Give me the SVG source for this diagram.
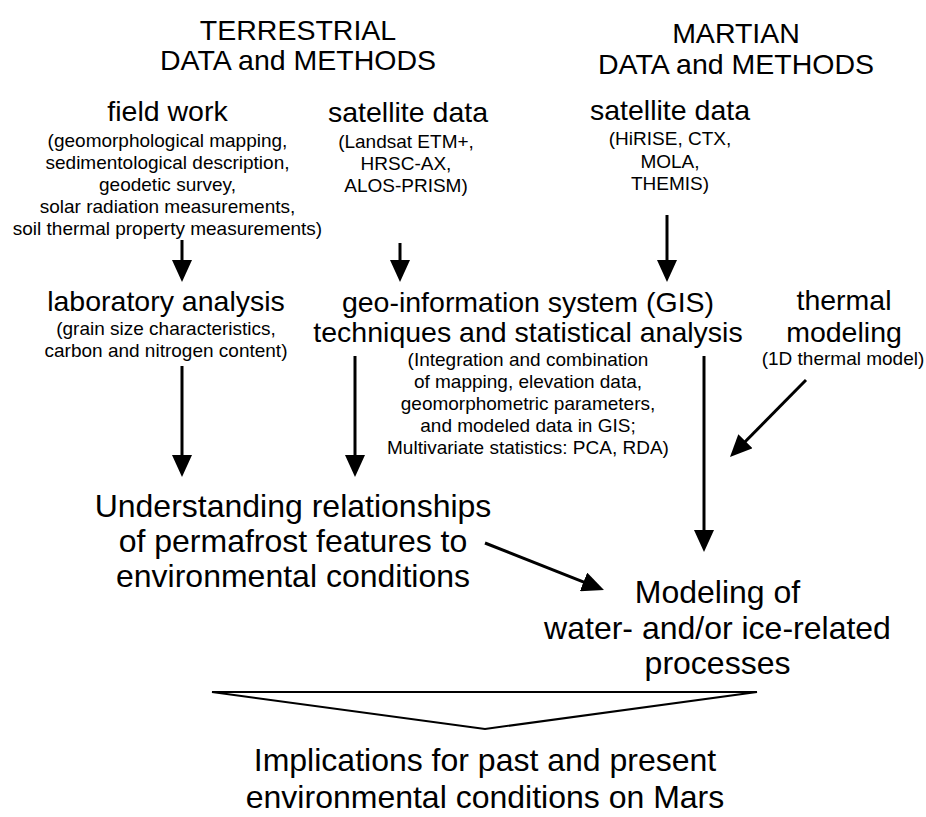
<svg xmlns="http://www.w3.org/2000/svg" width="926" height="817" viewBox="0 0 926 817">
<style>
text{font-family:"Liberation Sans",Arial,sans-serif;fill:#000;text-anchor:middle}
.h{font-size:28.5px}
.m{font-size:28.5px}
.s{font-size:19px}
.b{font-size:32px}
.c{stroke:#000;stroke-width:3;fill:none}
</style>
<defs>
<marker id="ah" viewBox="0 0 22 20" refX="16" refY="10" markerWidth="22" markerHeight="20" markerUnits="userSpaceOnUse" orient="auto">
<path d="M0,0 L22,10 L0,20 z" fill="#000"/>
</marker>
</defs>
<rect width="926" height="817" fill="#fff"/>
<g id="terrestrial-heading">
<text class="h" x="298" y="40">TERRESTRIAL</text>
<text class="h" x="298" y="70">DATA and METHODS</text>
</g>
<g id="martian-heading">
<text class="h" x="736" y="43">MARTIAN</text>
<text class="h" x="736" y="74">DATA and METHODS</text>
</g>
<g id="field-work">
<text class="m" x="167.5" y="121">field work</text>
<text class="s" x="167.5" y="146.5">(geomorphological mapping,</text>
<text class="s" x="167.5" y="168.5">sedimentological description,</text>
<text class="s" x="167.5" y="190.5">geodetic survey,</text>
<text class="s" x="167.5" y="212.5">solar radiation measurements,</text>
<text class="s" x="167.5" y="234.5">soil thermal property measurements)</text>
</g>
<g id="terrestrial-satellite">
<text class="m" x="408" y="121.5">satellite data</text>
<text class="s" x="406" y="147.5">(Landsat ETM+,</text>
<text class="s" x="406" y="169.5">HRSC-AX,</text>
<text class="s" x="406" y="191.5">ALOS-PRISM)</text>
</g>
<g id="martian-satellite">
<text class="m" x="670" y="120">satellite data</text>
<text class="s" x="670" y="145">(HiRISE, CTX,</text>
<text class="s" x="670" y="168">MOLA,</text>
<text class="s" x="670" y="190">THEMIS)</text>
</g>
<g id="laboratory">
<text class="m" x="166" y="311">laboratory analysis</text>
<text class="s" x="166" y="335">(grain size characteristics,</text>
<text class="s" x="166" y="357">carbon and nitrogen content)</text>
</g>
<g id="gis">
<text class="m" x="528" y="312">geo-information system (GIS)</text>
<text class="m" x="528" y="342">techniques and statistical analysis</text>
<text class="s" x="528" y="366">(Integration and combination</text>
<text class="s" x="528" y="388">of mapping, elevation data,</text>
<text class="s" x="528" y="410">geomorphometric parameters,</text>
<text class="s" x="528" y="432">and modeled data in GIS;</text>
<text class="s" x="528" y="453.5">Multivariate statistics: PCA, RDA)</text>
</g>
<g id="thermal">
<text class="m" x="844" y="310">thermal</text>
<text class="m" x="844" y="342">modeling</text>
<text class="s" x="843" y="365">(1D thermal model)</text>
</g>
<g id="understanding">
<text class="b" x="293" y="517">Understanding relationships</text>
<text class="b" x="293" y="552">of permafrost features to</text>
<text class="b" x="293" y="587">environmental conditions</text>
</g>
<g id="modeling">
<text class="b" x="717.5" y="603">Modeling of</text>
<text class="b" x="717.5" y="639">water- and/or ice-related</text>
<text class="b" x="717.5" y="674">processes</text>
</g>
<g id="implications">
<polygon points="212,692 757,692 485,729" fill="#fff" stroke="#000" stroke-width="2" stroke-linejoin="miter"/>
<text class="b" x="485" y="771">Implications for past and present</text>
<text class="b" x="485" y="808">environmental conditions on Mars</text>
</g>
<g id="connectors">
<line class="c" x1="182" y1="240" x2="182" y2="276" marker-end="url(#ah)"/>
<line class="c" x1="400" y1="243" x2="400" y2="276" marker-end="url(#ah)"/>
<line class="c" x1="667" y1="215" x2="667" y2="276" marker-end="url(#ah)"/>
<line class="c" x1="182" y1="366" x2="182" y2="471" marker-end="url(#ah)"/>
<line class="c" x1="355" y1="356" x2="355" y2="471" marker-end="url(#ah)"/>
<line class="c" x1="704" y1="356" x2="704" y2="546" marker-end="url(#ah)"/>
<line class="c" x1="806" y1="380" x2="734.2" y2="452.7" marker-end="url(#ah)"/>
<line class="c" x1="485" y1="543" x2="598.4" y2="587.8" marker-end="url(#ah)"/>
</g>
</svg>
